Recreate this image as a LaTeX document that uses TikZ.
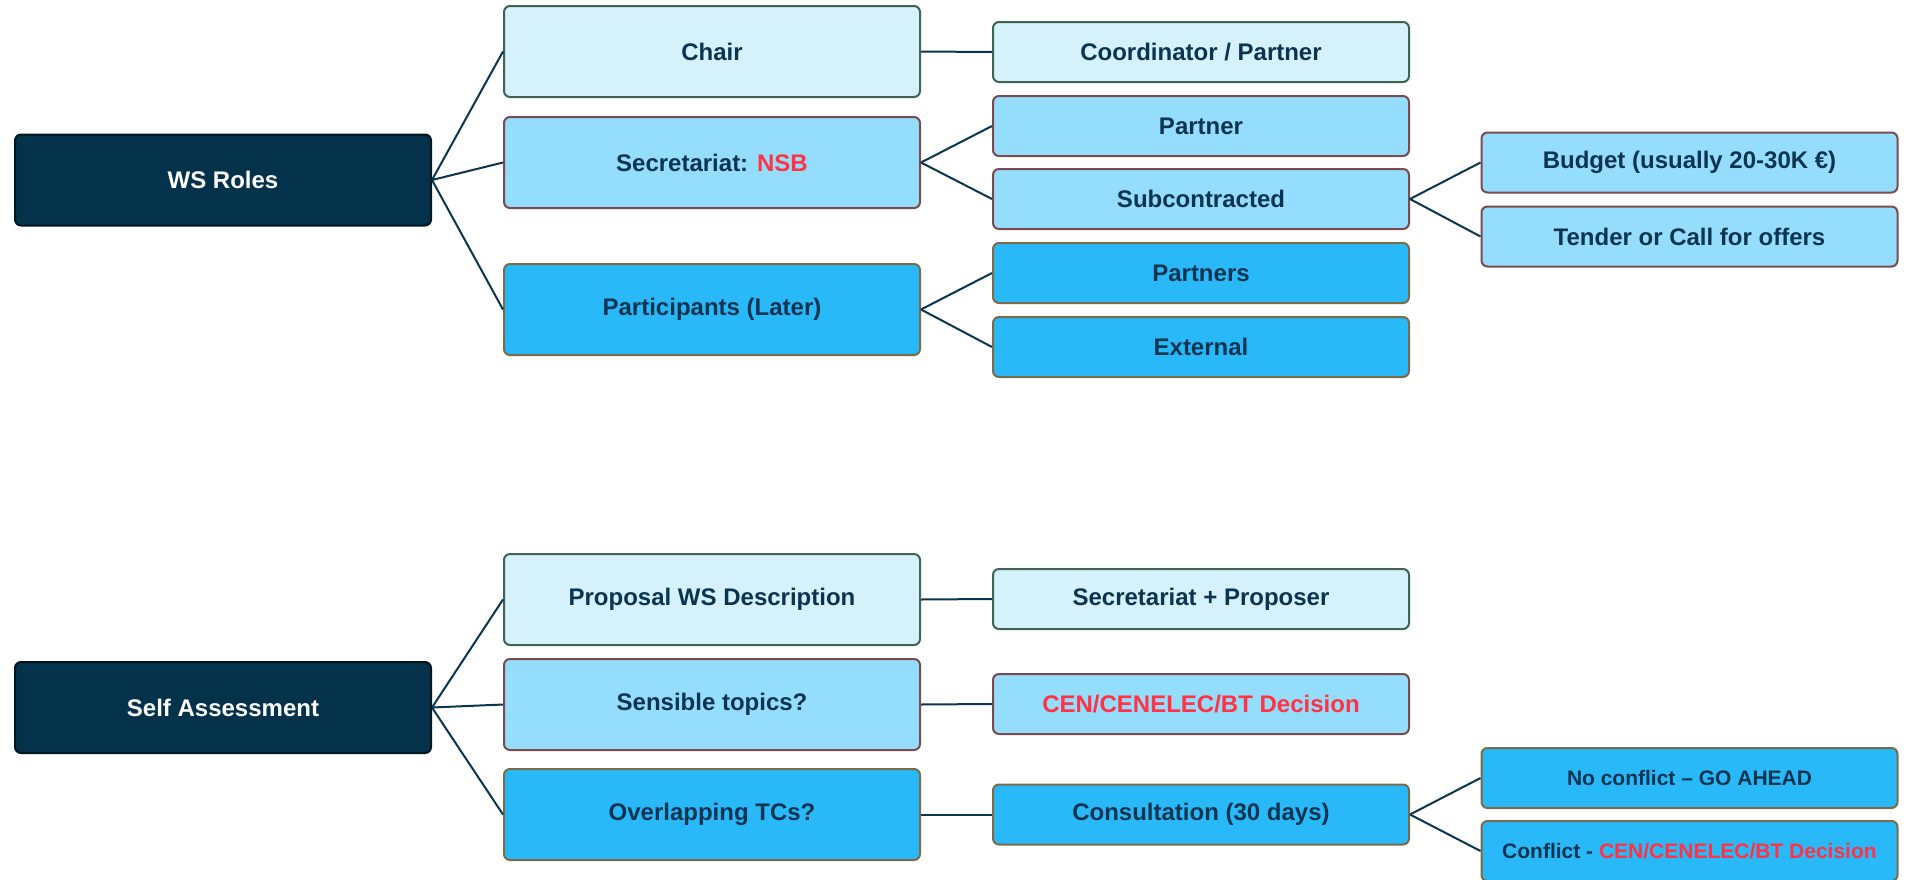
\documentclass[tikz,border=0pt]{standalone}
\usepackage{fontspec}
\setmainfont{Liberation Sans}
\usepackage{color}
\definecolor{navy}{HTML}{03324A}
\definecolor{navyline}{HTML}{01161F}
\definecolor{ink}{HTML}{0A3450}
\definecolor{paleblue}{HTML}{D5F1FC}
\definecolor{paleline}{HTML}{3E6455}
\definecolor{midblue}{HTML}{95DDFD}
\definecolor{midline}{HTML}{7B4A4F}
\definecolor{deepblue}{HTML}{29B9F9}
\definecolor{deepline}{HTML}{7A6C48}
\definecolor{alert}{HTML}{FF3344}

\begin{document}
\begin{tikzpicture}[x=0.5pt,y=-0.5pt,
  box/.style={rounded corners=3pt,line width=1pt,text=ink,minimum width=208pt,inner sep=0pt,
    font=\bfseries\fontsize{12}{14}\selectfont},
  big/.style={box,minimum height=45.5pt},
  small/.style={box,minimum height=30pt},
  rootb/.style={big,fill=navy,draw=navyline,text=white},
  paleb/.style={fill=paleblue,draw=paleline},
  midb/.style={fill=midblue,draw=midline},
  deepb/.style={fill=deepblue,draw=deepline},
  tiny/.style={font=\bfseries\fontsize{10.5}{12}\selectfont},
  link/.style={draw=ink,line width=1pt}]
  \useasboundingbox (0,0) rectangle (1908,879);

  % WS roles
  \node[rootb] (roles) at (223,180) {WS Roles};
  \node[big,paleb] (chair) at (712,51.5) {Chair};
  \node[big,midb] (sec) at (712,162.5) {Secretariat: \textcolor{alert}{NSB}};
  \node[big,deepb] (part) at (712,309.5) {Participants (Later)};
  \node[small,paleb] (coord) at (1201,52) {Coordinator / Partner};
  \node[small,midb] (partner) at (1201,126) {Partner};
  \node[small,midb] (sub) at (1201,199) {Subcontracted};
  \node[small,deepb] (partners) at (1201,273) {Partners};
  \node[small,deepb] (ext) at (1201,347) {External};
  \node[small,midb] (budget) at (1689.5,162.5) {Budget (usually 20-30K €)};
  \node[small,midb] (tender) at (1689.5,236.5) {Tender or Call for offers};

  \path[link] (roles.east) edge (chair.west) edge (sec.west) edge (part.west);
  \path[link] (chair.east) edge (coord.west);
  \path[link] (sec.east) edge (partner.west) edge (sub.west);
  \path[link] (part.east) edge (partners.west) edge (ext.west);
  \path[link] (sub.east) edge (budget.west) edge (tender.west);

  % self assessment
  \node[rootb] (self) at (223,707.5) {Self Assessment};
  \node[big,paleb] (prop) at (712,599.5) {Proposal WS Description};
  \node[big,midb] (topics) at (712,704.5) {Sensible topics?};
  \node[big,deepb] (overlap) at (712,814.5) {Overlapping TCs?};
  \node[small,paleb] (secprop) at (1201,599) {Secretariat + Proposer};
  \node[small,midb] (decision) at (1201,704) {\textcolor{alert}{CEN/CENELEC/BT Decision}};
  \node[small,deepb] (consult) at (1201,814.5) {Consultation (30 days)};
  \node[small,deepb,tiny] (noconf) at (1689.5,778) {No conflict – GO AHEAD};
  \node[small,deepb,tiny] (conf) at (1689.5,851) {Conflict - \textcolor{alert}{CEN/CENELEC/BT Decision}};

  \path[link] (self.east) edge (prop.west) edge (topics.west) edge (overlap.west);
  \path[link] (prop.east) edge (secprop.west);
  \path[link] (topics.east) edge (decision.west);
  \path[link] (overlap.east) edge (consult.west);
  \path[link] (consult.east) edge (noconf.west) edge (conf.west);
\end{tikzpicture}
\end{document}
